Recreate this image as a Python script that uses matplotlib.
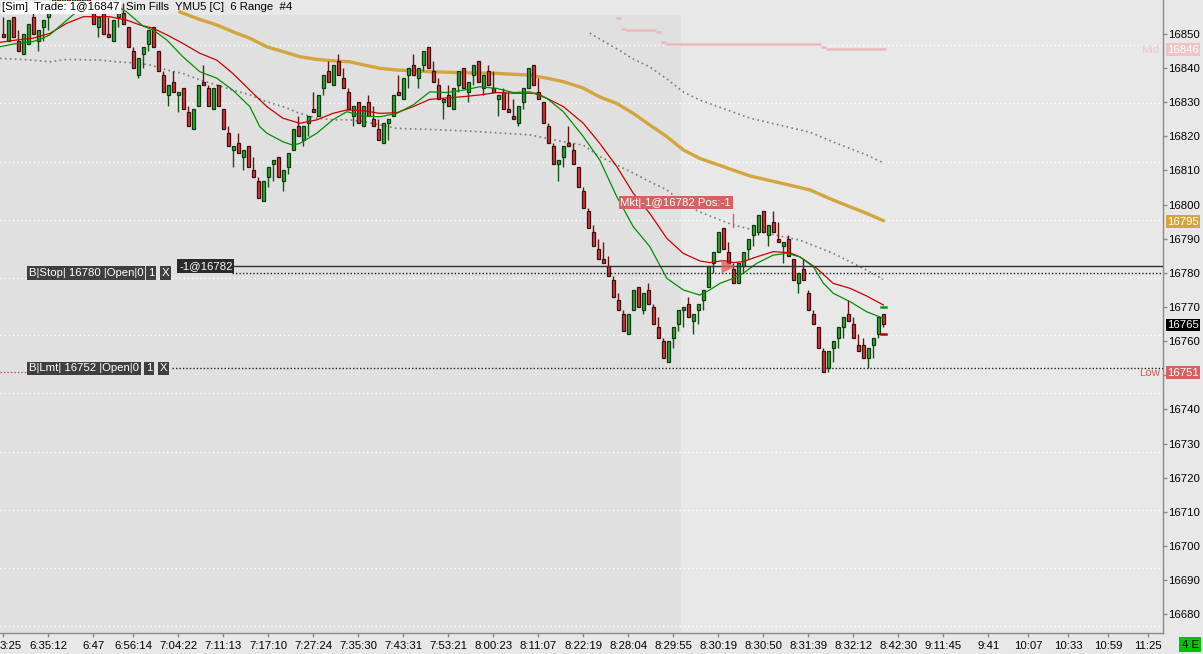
import numpy as np
import matplotlib
matplotlib.use("Agg")
import matplotlib.pyplot as plt
from matplotlib.transforms import blended_transform_factory

# ---------------- data ----------------
opens = [16850,16848,16855,16848,16844,16847,16855,16848,16852,16855,
         16858,16861,16858,16862,16859,16862,16859,16862,16857,16852,
         16856,16850,16848,16855,16856,16852,16845,16838,16844,16847,
         16852,16845,16838,16832,16836,16832,16834,16827,16822,16829,
         16836,16834,16828,16835,16828,16821,16816,16818,16814,16817,
         16810,16807,16801,16808,16812,16814,16807,16811,16816,16823,
         16819,16824,16828,16826,16834,16839,16835,16842,16837,16833,
         16826,16830,16823,16830,16825,16822,16818,16824,16826,16833,
         16831,16838,16841,16837,16841,16846,16839,16835,16830,16832,
         16828,16835,16840,16833,16838,16842,16834,16839,16834,16831,
         16833,16828,16826,16824,16830,16834,16841,16833,16830,16823,
         16817,16812,16814,16818,16816,16811,16804,16798,16792,16787,
         16784,16782,16778,16772,16768,16762,16769,16776,16769,16775,
         16770,16764,16760,16754,16761,16765,16769,16771,16766,16769,
         16772,16776,16783,16786,16793,16786,16781,16777,16782,16787,
         16791,16792,16798,16791,16795,16790,16788,16790,16784,16777,
         16781,16774,16768,16764,16757,16752,16758,16761,16764,16768,
         16765,16759,16759,16755,16759,16762,16768]
highs = [16855,16854,16855,16851,16850,16853,16856,16851,16854,16857,
         16862,16863,16863,16864,16863,16864,16863,16864,16859,16855,
         16856,16855,16854,16858,16859,16852,16846,16843,16846,16851,
         16852,16845,16839,16835,16839,16833,16834,16829,16828,16835,
         16841,16835,16834,16835,16828,16823,16817,16821,16816,16817,
         16814,16808,16807,16811,16813,16814,16810,16815,16822,16826,
         16823,16826,16833,16832,16838,16842,16841,16844,16840,16834,
         16829,16830,16829,16832,16829,16825,16824,16825,16832,16838,
         16837,16840,16844,16840,16845,16846,16842,16837,16831,16835,
         16834,16839,16840,16836,16841,16842,16838,16841,16839,16832,
         16834,16833,16831,16829,16834,16840,16841,16837,16830,16824,
         16818,16813,16817,16823,16818,16811,16805,16799,16794,16790,
         16789,16785,16779,16774,16769,16768,16775,16776,16774,16777,
         16771,16767,16761,16760,16764,16769,16770,16773,16768,16771,
         16775,16782,16786,16792,16793,16789,16783,16783,16786,16790,
         16794,16797,16798,16794,16798,16795,16789,16791,16784,16780,
         16784,16775,16769,16764,16758,16757,16760,16764,16767,16772,
         16767,16762,16761,16758,16761,16767,16768]
lows = [16849,16848,16849,16845,16844,16847,16850,16845,16848,16851,
        16856,16857,16857,16858,16857,16858,16857,16858,16853,16849,
        16850,16849,16848,16852,16853,16846,16840,16837,16840,16845,
        16846,16839,16833,16829,16833,16827,16828,16823,16822,16829,
        16835,16829,16828,16829,16822,16817,16811,16815,16810,16811,
        16808,16802,16801,16805,16807,16808,16804,16809,16816,16820,
        16817,16820,16827,16826,16832,16836,16835,16838,16834,16828,
        16823,16824,16823,16826,16823,16819,16818,16819,16826,16832,
        16831,16834,16838,16834,16839,16840,16836,16831,16825,16829,
        16828,16833,16834,16830,16835,16836,16832,16835,16833,16826,
        16828,16827,16825,16823,16828,16834,16835,16831,16824,16818,
        16812,16807,16811,16817,16812,16805,16799,16793,16788,16784,
        16783,16779,16773,16769,16763,16762,16769,16770,16768,16771,
        16765,16761,16755,16754,16758,16763,16764,16767,16762,16765,
        16769,16776,16780,16786,16787,16783,16777,16777,16780,16784,
        16788,16791,16792,16788,16792,16789,16783,16785,16778,16774,
        16778,16769,16765,16758,16751,16751,16754,16758,16761,16766,
        16761,16757,16755,16752,16755,16761,16764]
closes = [16849,16854,16849,16845,16850,16853,16850,16851,16854,16857,
          16862,16857,16863,16858,16863,16858,16863,16858,16853,16855,
          16850,16849,16854,16858,16853,16846,16840,16843,16846,16851,
          16846,16839,16833,16835,16833,16833,16828,16823,16828,16835,
          16835,16829,16834,16829,16822,16817,16817,16815,16816,16811,
          16808,16802,16807,16811,16813,16808,16810,16815,16822,16820,
          16823,16826,16827,16832,16838,16836,16841,16838,16834,16828,
          16829,16824,16829,16826,16823,16819,16824,16825,16832,16832,
          16837,16840,16838,16840,16845,16840,16836,16831,16831,16829,
          16834,16839,16834,16836,16841,16836,16838,16835,16833,16832,
          16828,16827,16825,16829,16834,16840,16835,16831,16824,16818,
          16812,16813,16817,16817,16812,16805,16799,16793,16788,16784,
          16783,16779,16773,16769,16763,16768,16775,16770,16774,16771,
          16765,16761,16755,16760,16764,16769,16770,16767,16768,16771,
          16775,16782,16786,16792,16787,16783,16777,16783,16786,16790,
          16794,16797,16792,16794,16792,16789,16789,16785,16778,16780,
          16778,16769,16765,16758,16751,16757,16760,16764,16767,16766,
          16761,16757,16755,16758,16761,16767,16765]

# moving averages: (bar index, price) samples
red_ma_x = [-0.7,2.7,5.9,9.3,12.7,16,21.3,24.7,27.3,30,32.7,35.9,39.3,42.7,45.9,49.3,52.7,55.9,59.3,62.7,
            65.9,68.7,72,75.3,78.7,82,85.3,92,95.3,98.7,102,106.7,108.7,112,116,119.3,122.7,126,129.3,132.7,
            136,139.3,141.3,144,146,148,150.7,154,157.3,159.3,162.7,166,169.3,172.7,176]
red_ma_y = [16847.5,16848.2,16848.7,16850.1,16853.1,16855.0,16855.0,16854.0,16852.6,16851.6,16849.7,16847.2,16844.3,
            16842.3,16838.4,16833.5,16828.7,16825.3,16823.8,16824.8,16826.7,16827.7,16827.5,16826.7,16826.9,16828.7,
            16830.8,16831.6,16832.1,16832.8,16832.6,16832.6,16831.1,16828.7,16823.8,16817.9,16811.1,16803.3,16797.4,
            16790.1,16785.7,16783.5,16783.0,16783.6,16783.0,16783.3,16784.7,16786.2,16785.9,16784.7,16781.3,16776.9,
            16775.5,16773.2,16770.6]
green_ma_x = [-0.7,2.7,5.9,7.9,9.3,12.7,14.7,17.3,20.4,22.7,24.7,27.9,30,32.7,35.9,39.3,42.7,45.9,49.3,51.3,
              52.7,55.9,57.9,59.3,62.7,65.9,68.7,72,75.3,78.7,82,85.3,88.7,92,95.3,98.7,102,105.3,108.7,112,
              116,119.3,122.7,126,129.3,132.7,136,139.3,141.3,143.3,146,148,150.7,154,156.7,159.3,162,164,166,
              169.3,172.7,176]
green_ma_y = [16846.2,16847.2,16847.7,16848.7,16849.7,16854.0,16856.5,16858.4,16858.7,16858.1,16856.4,16852.3,16851.1,
              16848.2,16843.3,16838.9,16837.0,16833.5,16828.7,16822.8,16820.9,16818.4,16817.4,16817.9,16820.9,16824.8,
              16827.2,16825.9,16825.7,16826.7,16829.2,16833.0,16832.8,16833.5,16834.5,16834.0,16832.8,16833.0,16831.1,
              16827.2,16819.9,16813.0,16802.3,16793.5,16787.7,16778.4,16775.0,16773.5,16775.0,16776.9,16778.4,16779.9,
              16782.8,16785.2,16785.7,16784.7,16781.8,16777.0,16774.0,16771.6,16768.6,16766.7]
gold_ma_x = [35.3,39.3,42.7,45.9,49.3,52.7,55.9,59.3,62.7,65.9,69.3,72,75.3,78.7,85.3,92,98.7,105.3,108.7,112,
             116,119.3,122.7,126,129.3,132.7,136,139.3,149.3,161.3,166,172.7,176]
gold_ma_y = [16856.4,16854.2,16852.6,16850.6,16848.7,16846.2,16844.8,16843.3,16842.5,16842.1,16841.8,16840.9,16839.9,
             16839.4,16838.9,16838.6,16838.4,16837.9,16837.0,16836.0,16834.1,16831.5,16829.6,16826.7,16823.3,16819.9,
             16816.0,16813.5,16808.4,16804.3,16801.3,16797.4,16795.3]
lower_env_x = [-0.7,5.9,9.3,12.7,19.3,22.7,26,29.3,32.7,35.9,39.3,42.7,45.9,49.3,52.7,55.9,59.3,62.7,65.9,69.3,
               72,78.7,85.3,92,98.7,105.3,108.7,112,116,119.3,122.7,126,129.3,132.7,136,139.3,146,152.7,159.3,166,
               172.7,176]
lower_env_y = [16842.8,16842.3,16841.8,16842.5,16842.3,16841.8,16841.5,16840.9,16839.4,16838.4,16836.5,16835.0,16833.5,
               16832.1,16830.1,16828.7,16826.7,16825.3,16824.8,16824.8,16824.3,16822.3,16822.0,16821.6,16821.0,16820.4,
               16819.4,16818.4,16817.4,16814.0,16811.6,16809.2,16806.7,16804.3,16800.4,16797.8,16794.0,16791.6,16789.6,
               16785.7,16780.8,16778.1]
upper_env_x = [117.3,119.3,122.7,126,129.3,132.7,136,139.3,149.3,161.3,166,172.7,176]
upper_env_y = [16850.2,16848.5,16845.6,16842.6,16840.3,16836.8,16833.0,16830.6,16825.3,16821.2,16818.3,16814.5,16812.2]

# session mid (step line): first bar, last bar, value
mid_first = [123, 124, 125, 131, 132, 133, 164, 165]
mid_last = [123, 124, 130, 131, 132, 163, 164, 176]
mid_vals = [16854.5, 16851.5, 16851.0, 16850.5, 16847.5, 16847.0, 16846.0, 16845.5]

# orders / position
position_price = 16782
stop_price = 16780
limit_price = 16752
session_low = 16751
session_mid = 16846
gold_last = 16795
last_price = 16765
exec_bar = 145
ask_marker = 16770
bid_marker = 16762

# x axis (bar index -> time label)
tick_bars = [0, 9, 18, 26, 35, 44, 53, 62, 71, 80, 89, 98, 107, 116, 125, 134, 143, 152, 161, 170,
             179, 188, 197, 205, 213, 221, 229]
tick_labels = ["", "6:35:12", "6:47", "6:56:14", "7:04:22", "7:11:13", "7:17:10", "7:27:24", "7:35:30",
               "7:43:31", "7:53:21", "8:00:23", "8:11:07", "8:22:19", "8:28:04", "8:29:55", "8:30:19",
               "8:30:50", "8:31:39", "8:32:12", "8:42:30", "9:11:45", "9:41", "10:07", "10:33", "10:59", "11:25"]
y_ticks = list(range(16680, 16851, 10))
grid_prices = [16846.7, 16829.6, 16812.5, 16795.5, 16778.6, 16761.7, 16744.7, 16727.6, 16710.7, 16693.7, 16676.7]
shade_end_bar = 135.5

# ---------------- style ----------------
BG = "#e8e8e8"
SHADE = "#e0e0e0"
FONT = "Liberation Sans"
FS = 8.2
plt.rcParams["font.family"] = [FONT, "DejaVu Sans"]

W, Hpx, DPI = 1203, 654, 100
fig = plt.figure(figsize=(W / DPI, Hpx / DPI), dpi=DPI, facecolor=BG)
ax = fig.add_axes([0, 21 / Hpx, 1163 / W, 633 / Hpx])
ax.set_facecolor(BG)
px_per_bar = 5.0
xmin = -3.3 / px_per_bar
xmax = (1163 - 3.3) / px_per_bar
pts_per_px = 1 / 3.415
ytop = 16850 + 33.8 * pts_per_px
ybot = ytop - 633 * pts_per_px
ax.set_xlim(xmin, xmax)
ax.set_ylim(ybot, ytop)

# session shading
ax.axvspan(xmin, shade_end_bar, ymin=0, ymax=(633 - 15) / 633, color=SHADE, zorder=0, lw=0)

# grid
for g in grid_prices:
    ax.axhline(g, color="white", lw=1.0, ls=(0, (1, 2)), zorder=1)

# moving averages
ax.plot(lower_env_x, lower_env_y, color="#7a7a7a", lw=1.2, ls=(0, (1, 2)), zorder=2)
ax.plot(upper_env_x, upper_env_y, color="#7a7a7a", lw=1.2, ls=(0, (1, 2)), zorder=2)
ax.plot(gold_ma_x, gold_ma_y, color="#d4a53c", lw=2.4, zorder=2, solid_joinstyle="round")

# session mid step
for a, b, v in zip(mid_first, mid_last, mid_vals):
    ax.plot([a - 0.5, b + 0.5], [v, v], color="#ebb9b9", lw=1.8, zorder=2, solid_capstyle="butt")

# candles
o = np.array(opens, float); h = np.array(highs, float)
l = np.array(lows, float); c = np.array(closes, float)
xs = np.arange(len(o))
up = c > o
body_col = np.where(up, "#2ea82e", "#dd3434")
edge_col = np.where(up, "#0f3a0f", "#3a0f0f")
wick_col = np.where(up, "#145214", "#6e1010")
ax.vlines(xs, l, h, colors=wick_col, lw=1.0, zorder=3)
bottom = np.minimum(o, c)
height = np.abs(c - o)
ax.bar(xs, height, bottom=bottom, width=0.58, color=body_col, edgecolor=edge_col, lw=0.9, zorder=4)

ax.plot(red_ma_x, red_ma_y, color="#cc0000", lw=0.9, zorder=5)
ax.plot(green_ma_x, green_ma_y, color="#009000", lw=0.9, zorder=5)

# bid / ask markers right of last bar
last = len(o) - 1
ax.plot([last - 0.5, last + 0.5], [ask_marker, ask_marker], color="#00a000", lw=1.8, zorder=5)
ax.plot([last - 0.5, last + 0.5], [bid_marker, bid_marker], color="#c00000", lw=1.8, zorder=5)

# order lines
px2bar = lambda p: (p - 3.3) / px_per_bar
ax.plot([px2bar(230), xmax], [position_price] * 2, color="#303030", lw=1.0, zorder=6)
ax.plot([px2bar(232), xmax], [stop_price] * 2, color="#202020", lw=1.0, ls=(0, (1, 1.5)), zorder=6)
ax.plot([px2bar(172), xmax], [limit_price] * 2, color="#202020", lw=1.0, ls=(0, (1, 1.5)), zorder=6)
ax.plot([xmin, px2bar(27)], [session_low] * 2, color="#c05050", lw=1.0, ls=(0, (1, 1.5)), zorder=6)

# execution marker
ax.plot([exec_bar], [position_price], marker=">", ms=10, color="#e06060", alpha=0.8, mec="none", zorder=7)

box = lambda fc: dict(boxstyle="square,pad=0.15", fc=fc, ec="none")
# order labels
ax.text(px2bar(29), stop_price, "B|Stop| 16780 |Open|0", color="white", fontsize=FS, va="center",
        ha="left", bbox=box("#3f3f3f"), zorder=8)
ax.text(px2bar(148), stop_price, "1", color="white", fontsize=FS, va="center", ha="left",
        bbox=box("#3f3f3f"), zorder=8)
ax.text(px2bar(162), stop_price, "X", color="white", fontsize=FS, va="center", ha="left",
        bbox=box("#3f3f3f"), zorder=8)
ax.text(px2bar(179), position_price, "-1@16782", color="white", fontsize=FS, va="center", ha="left",
        bbox=box("#2a2a2a"), zorder=8)
ax.text(px2bar(29), limit_price, "B|Lmt| 16752 |Open|0", color="white", fontsize=FS, va="center",
        ha="left", bbox=box("#3f3f3f"), zorder=8)
ax.text(px2bar(146), limit_price, "1", color="white", fontsize=FS, va="center", ha="left",
        bbox=box("#3f3f3f"), zorder=8)
ax.text(px2bar(160), limit_price, "X", color="white", fontsize=FS, va="center", ha="left",
        bbox=box("#3f3f3f"), zorder=8)

# market execution label
ax.text(px2bar(731), 16800.6, "Mkt|-1@16782 Pos:-1", color="white", fontsize=FS, va="center",
        ha="right", bbox=box("#d46262"), zorder=8)
ax.plot([px2bar(733)] * 2, [16797.3, 16793.3], color="#d46262", lw=1.0, zorder=8)

# axes styling
for s in ["left", "top"]:
    ax.spines[s].set_visible(False)
for s in ["right", "bottom"]:
    ax.spines[s].set_color("#8a8a8a")
    ax.spines[s].set_linewidth(1.0)
ax.yaxis.tick_right()
ax.set_yticks(y_ticks)
ax.set_yticklabels([str(v) for v in y_ticks])
ax.tick_params(axis="y", length=3, width=1, color="#8a8a8a", labelsize=FS, pad=1.0, labelcolor="black")
ax.set_xticks(tick_bars)
ax.set_xticklabels(tick_labels)
ax.tick_params(axis="x", length=3, width=1, color="#8a8a8a", labelsize=FS, pad=3, labelcolor="black")
ax.text(0, -0.012, "3:25", transform=ax.transAxes, ha="left", va="top", fontsize=FS)

# price tags on the axis
tr = blended_transform_factory(ax.transAxes, ax.transData)
xt = 1 + 4 / 1163
for price, txt, fc in [(session_mid - 0.6, "16846", "#f0c4c4"), (gold_last, "16795", "#d4a53c"),
                       (last_price - 0.3, "16765", "#000000"), (session_low - 0.2, "16751", "#d46262")]:
    ax.text(xt, price, txt, transform=tr, color="white", fontsize=FS, va="center", ha="left",
            bbox=dict(boxstyle="square,pad=0.12", fc=fc, ec="none"), zorder=9, clip_on=False)
ax.text(1 - 3 / 1163, session_mid - 0.6, "Mid", transform=tr, color="#f0c4c4", fontsize=FS,
        va="center", ha="right", zorder=9)
ax.text(1 - 3 / 1163, session_low - 0.2, "Low", transform=tr, color="#d46262", fontsize=FS,
        va="center", ha="right", zorder=9)

# header
fig.text(2 / W, 1 - 7.5 / Hpx, "[Sim]  Trade: 1@16847", fontsize=FS, va="center", ha="left",
         bbox=dict(boxstyle="square,pad=0.12", fc="white", ec="none"))
fig.text(126 / W, 1 - 7.5 / Hpx, "Sim Fills  YMU5 [C]  6 Range  #4", fontsize=FS, va="center", ha="left")

# connection box
fig.text(1190 / W, 1 - 644.5 / Hpx, "4 E", fontsize=FS, va="center", ha="center", color="black",
         bbox=dict(boxstyle="square,pad=0.22", fc="#00c400", ec="none"))

fig.savefig("out.png", dpi=DPI, facecolor=BG)
